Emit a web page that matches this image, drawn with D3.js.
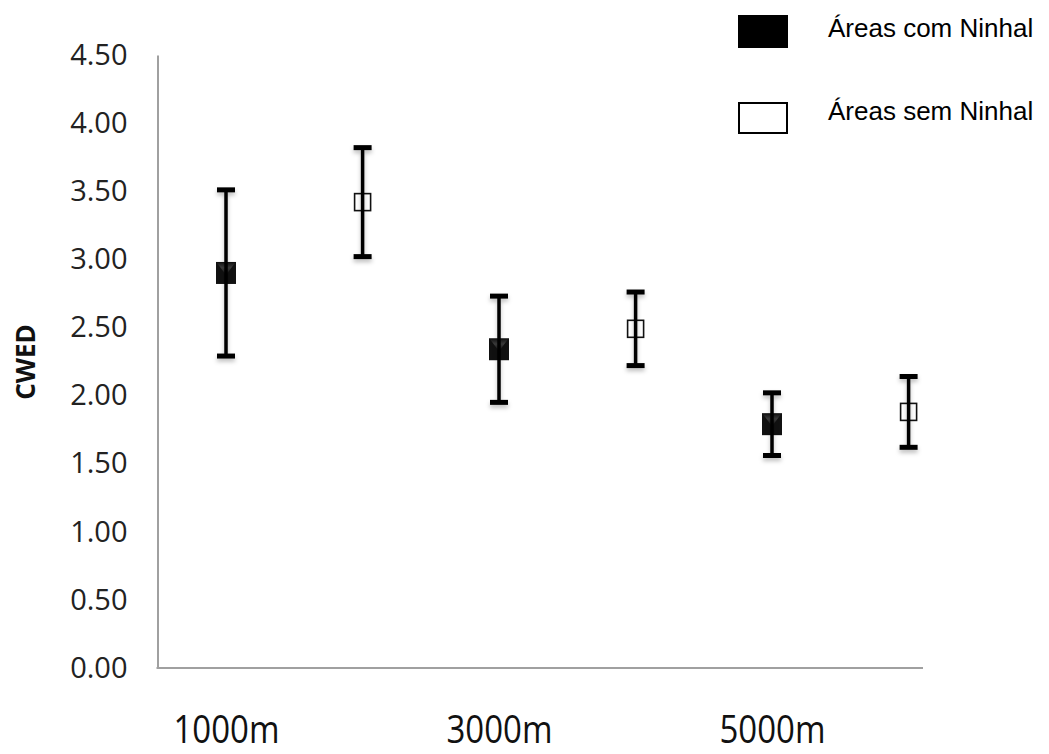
<!DOCTYPE html>
<html>
<head>
<meta charset="utf-8">
<script src="https://cdn.jsdelivr.net/npm/d3@7"></script>
<style>
  body { margin: 0; background: #fff; }
  svg { display: block; }
</style>
</head>
<body>
<div id="chart"></div>
<script>
// data
var categories = ["1000m", "3000m", "5000m"],
    groups = ["Áreas com Ninhal", "Áreas sem Ninhal"],
    comNinhal = [2.90, 2.34, 1.79],
    comNinhalErr = [0.61, 0.39, 0.23],
    semNinhal = [3.42, 2.49, 1.88],
    semNinhalErr = [0.40, 0.27, 0.26],
    yTicks = [0, 0.5, 1, 1.5, 2, 2.5, 3, 3.5, 4, 4.5];

var width = 1049, height = 754;
var plot = {left: 157.5, right: 923, top: 55, bottom: 668};

var svg = d3.select("#chart").append("svg")
    .attr("width", width)
    .attr("height", height);

var defs = svg.append("defs");
defs.append("filter")
    .attr("id", "shadow")
    .attr("x", "-50%").attr("y", "-50%")
    .attr("width", "200%").attr("height", "200%")
  .append("feDropShadow")
    .attr("dx", 0).attr("dy", 3)
    .attr("stdDeviation", 2)
    .attr("flood-color", "#000")
    .attr("flood-opacity", 0.25);

var grad = defs.append("linearGradient")
    .attr("id", "topShade")
    .attr("x1", 0).attr("y1", 0).attr("x2", 0).attr("y2", 1);
grad.append("stop").attr("offset", "0%").attr("stop-color", "#1a1a1a");
grad.append("stop").attr("offset", "40%").attr("stop-color", "#4a4a4a");
grad.append("stop").attr("offset", "100%").attr("stop-color", "#111");

// scales
var y = d3.scaleLinear()
    .domain([0, 4.5])
    .range([plot.bottom, plot.top]);

var x0 = d3.scalePoint()
    .domain(categories)
    .range([226, 772]);

var x1 = d3.scalePoint()
    .domain(groups)
    .range([0, 136.6]);

// series table built from the arrays
var points = [];
categories.forEach(function(c, i) {
    points.push({cat: c, group: groups[0], val: comNinhal[i], err: comNinhalErr[i], filled: true});
    points.push({cat: c, group: groups[1], val: semNinhal[i], err: semNinhalErr[i], filled: false});
});

// y axis
var yAxis = svg.append("g")
    .attr("transform", "translate(" + plot.left + ",0)")
    .call(d3.axisLeft(y)
        .tickValues(yTicks)
        .tickFormat(d3.format(".2f"))
        .tickSize(0)
        .tickSizeOuter(0)
        .tickPadding(30));

yAxis.select(".domain")
    .attr("stroke", "#a0a0a0")
    .attr("stroke-width", 2);

yAxis.selectAll("text")
    .attr("fill", "#222")
    .style("font-family", "'Open Sans', sans-serif")
    .style("font-size", "29px");

// x axis line
svg.append("line")
    .attr("x1", plot.left - 1).attr("x2", plot.right)
    .attr("y1", y(0)).attr("y2", y(0))
    .attr("stroke", "#a0a0a0")
    .attr("stroke-width", 2);

var xAxis = svg.append("g")
    .attr("transform", "translate(0," + y(0) + ")")
    .call(d3.axisBottom(x0).tickSize(0));

xAxis.select(".domain").remove();
xAxis.selectAll("text")
    .attr("fill", "#111")
    .attr("y", 65)
    .attr("dy", 0)
    .attr("transform", "scale(1,1.15)")
    .style("font-family", "'Open Sans', sans-serif")
    .style("font-size", "33px");

// y title
svg.append("text")
    .attr("transform", "translate(35," + 362 + ") rotate(-90)")
    .attr("text-anchor", "middle")
    .attr("fill", "#111")
    .style("font-family", "'Open Sans', sans-serif")
    .style("font-weight", "bold")
    .style("font-size", "26px")
    .text("CWED");

// markers
var pts = svg.append("g").selectAll("g")
    .data(points)
    .join("g")
    .attr("transform", function(d) {
        return "translate(" + (x0(d.cat) + x1(d.group)) + "," + y(d.val) + ")";
    });

pts.filter(function(d) { return d.filled; })
    .append("rect")
    .attr("x", -10).attr("y", -11)
    .attr("width", 20).attr("height", 22)
    .attr("fill", "#111");

pts.filter(function(d) { return d.filled; })
    .append("path")
    .attr("d", "M-9,-10L9,-10L0,2Z")
    .attr("fill", "url(#topShade)")
    .attr("opacity", 0.8);

pts.filter(function(d) { return !d.filled; })
    .append("rect")
    .attr("x", -8).attr("y", -8.5)
    .attr("width", 16).attr("height", 17)
    .attr("fill", "#fff")
    .attr("stroke", "#111")
    .attr("stroke-width", 1.6);

// error bars
var bars = svg.append("g")
    .attr("filter", "url(#shadow)")
    .selectAll("g")
    .data(points)
    .join("g")
    .attr("transform", function(d) { return "translate(" + (x0(d.cat) + x1(d.group)) + ",0)"; });

bars.append("line")
    .attr("x1", 0).attr("x2", 0)
    .attr("y1", function(d) { return y(d.val + d.err); })
    .attr("y2", function(d) { return y(d.val - d.err); })
    .attr("stroke", "#000")
    .attr("stroke-width", 3.5);

bars.append("line")
    .attr("x1", -9).attr("x2", 9)
    .attr("y1", function(d) { return y(d.val + d.err); })
    .attr("y2", function(d) { return y(d.val + d.err); })
    .attr("stroke", "#000")
    .attr("stroke-width", 5);

bars.append("line")
    .attr("x1", -9).attr("x2", 9)
    .attr("y1", function(d) { return y(d.val - d.err); })
    .attr("y2", function(d) { return y(d.val - d.err); })
    .attr("stroke", "#000")
    .attr("stroke-width", 5);

// legend
var legend = svg.append("g").selectAll("g")
    .data(groups)
    .join("g")
    .attr("transform", function(d, i) { return "translate(738," + (15 + i * 87) + ")"; });

legend.append("rect")
    .attr("x", function(d, i) { return i ? 1 : 0; })
    .attr("y", function(d, i) { return i ? 1 : 0; })
    .attr("width", function(d, i) { return i ? 48 : 50; })
    .attr("height", function(d, i) { return i ? 30 : 33; })
    .attr("fill", function(d, i) { return i ? "#fff" : "#000"; })
    .attr("stroke", "#000")
    .attr("stroke-width", function(d, i) { return i ? 2 : 0; });

legend.append("text")
    .attr("x", 90)
    .attr("y", function(d, i) { return i ? 18 : 22; })
    .attr("fill", "#000")
    .style("font-family", "'Liberation Sans', Arial, sans-serif")
    .style("font-size", "26px")
    .text(function(d) { return d; });
</script>
</body>
</html>
